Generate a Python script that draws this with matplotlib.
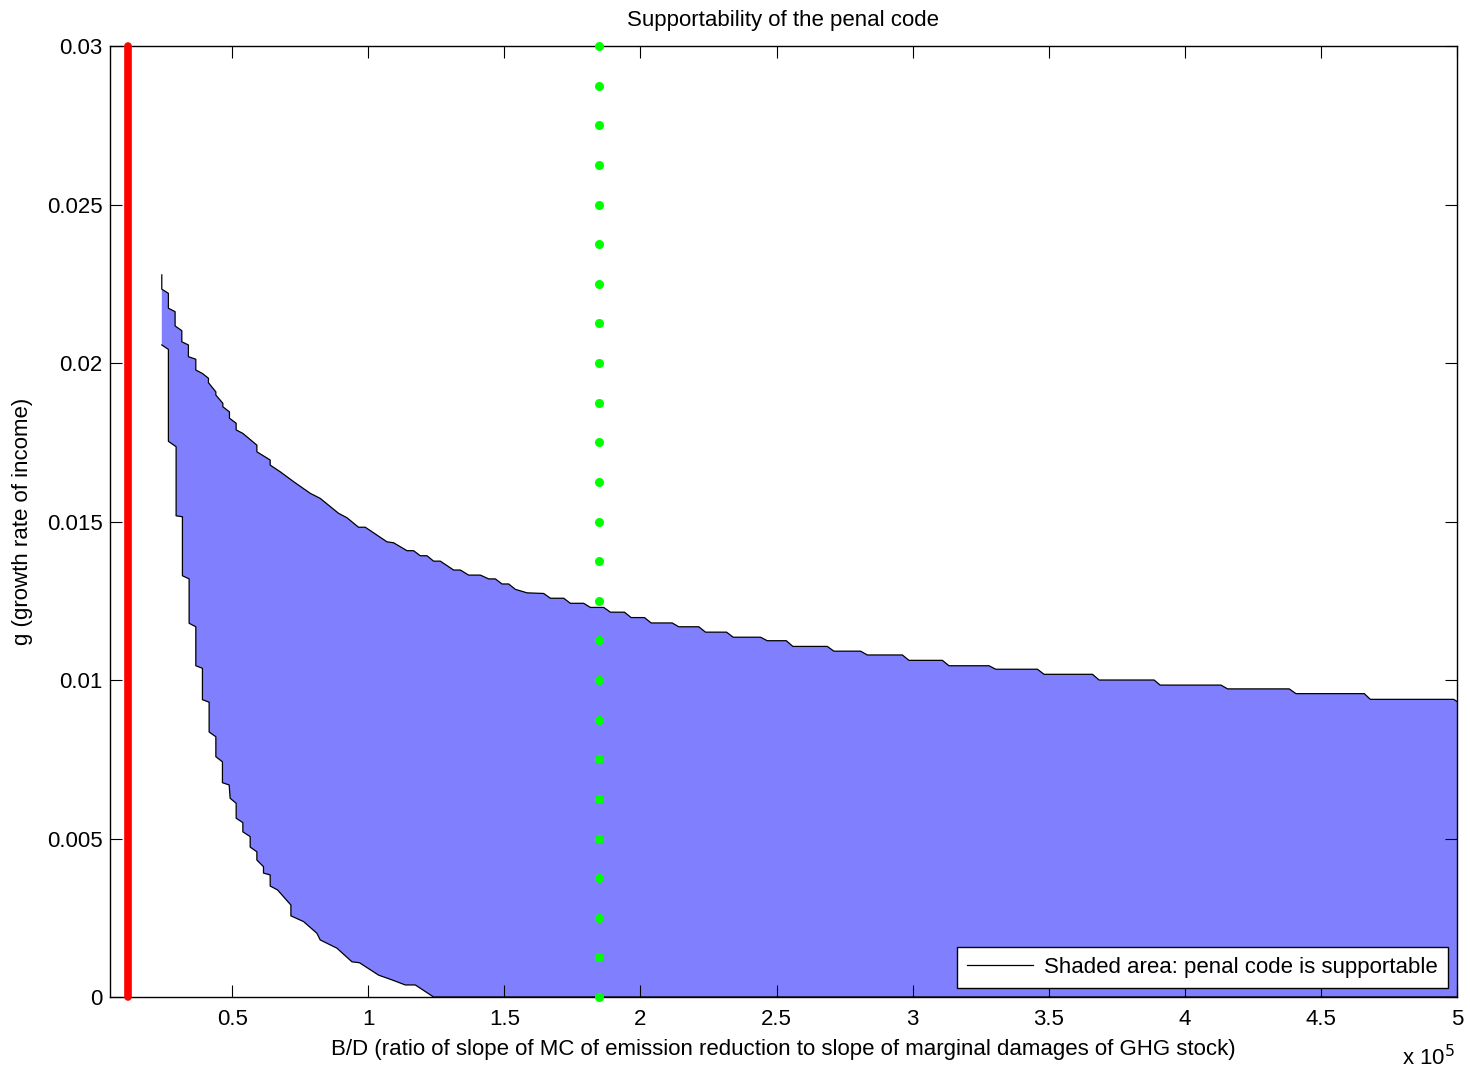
import matplotlib
matplotlib.use("Agg")
import matplotlib.pyplot as plt
import numpy as np

plt.rcParams['font.family'] = ['Liberation Sans', 'DejaVu Sans']

# B/D values in units of 1e5, g values
upper_x = [0.2415, 0.2415, 0.2658, 0.2658, 0.2904, 0.2904, 0.3151, 0.3151, 0.3393, 0.3393,
           0.3665, 0.3665, 0.3908, 0.4129, 0.4129, 0.4401, 0.4401, 0.4658, 0.4658, 0.4901,
           0.4901, 0.5147, 0.5147, 0.5393, 0.5908, 0.5908, 0.6397, 0.6397, 0.6765, 0.7254,
           0.7868, 0.8235, 0.8908, 0.9217, 0.9643, 0.9890, 1.0688, 1.0930, 1.1423, 1.1665,
           1.1912, 1.2158, 1.2401, 1.2647, 1.3136, 1.3382, 1.3688, 1.4118, 1.4423, 1.4669,
           1.4915, 1.5158, 1.5404, 1.5835, 1.6445, 1.6691, 1.7180, 1.7426, 1.7915, 1.8162,
           1.8651, 1.8897, 1.9412, 1.9658, 2.0147, 2.0393, 2.1165, 2.1408, 2.2143, 2.2390,
           2.3162, 2.3408, 2.4412, 2.4658, 2.5357, 2.5599, 2.6864, 2.7107, 2.8088, 2.8335,
           2.9621, 2.9864, 3.1092, 3.1335, 3.2805, 3.3051, 3.4585, 3.4827, 3.6607, 3.6849,
           3.8871, 3.9092, 4.1324, 4.1570, 4.3835, 4.4081, 4.6592, 4.6813, 4.9879, 5.0]
upper_g = [0.02278, 0.02233, 0.02220, 0.02173, 0.02162, 0.02117, 0.02102, 0.02067, 0.02057, 0.02020,
           0.02012, 0.01978, 0.01967, 0.01952, 0.01938, 0.01909, 0.01899, 0.01873, 0.01862, 0.01846,
           0.01826, 0.01810, 0.01789, 0.01778, 0.01741, 0.01720, 0.01694, 0.01678, 0.01657, 0.01626,
           0.01589, 0.01573, 0.01526, 0.01512, 0.01482, 0.01482, 0.01436, 0.01433, 0.01408, 0.01408,
           0.01392, 0.01392, 0.01375, 0.01375, 0.01347, 0.01347, 0.01331, 0.01331, 0.01319, 0.01319,
           0.01303, 0.01303, 0.01286, 0.01275, 0.01273, 0.01258, 0.01258, 0.01242, 0.01242, 0.01229,
           0.01229, 0.01214, 0.01214, 0.01197, 0.01197, 0.01180, 0.01180, 0.01168, 0.01168, 0.01151,
           0.01151, 0.01135, 0.01135, 0.01124, 0.01124, 0.01106, 0.01106, 0.01091, 0.01091, 0.01079,
           0.01079, 0.01062, 0.01062, 0.01045, 0.01045, 0.01034, 0.01034, 0.01018, 0.01018, 0.01000,
           0.01000, 0.00984, 0.00984, 0.00972, 0.00972, 0.00957, 0.00957, 0.00939, 0.00939, 0.00932]

lower_x = [0.2415, 0.2658, 0.2658, 0.2941, 0.2941, 0.3173, 0.3173, 0.3419, 0.3419, 0.3665,
           0.3665, 0.3908, 0.3908, 0.4154, 0.4154, 0.4401, 0.4401, 0.4643, 0.4643, 0.4890,
           0.4926, 0.5147, 0.5147, 0.5393, 0.5393, 0.5662, 0.5662, 0.5908, 0.5908, 0.6151,
           0.6151, 0.6397, 0.6397, 0.6665, 0.7158, 0.7158, 0.7621, 0.8114, 0.8235, 0.8849,
           0.9401, 0.9680, 1.0379, 1.0871, 1.1360, 1.1728, 1.2401, 5.0]
lower_g = [0.02057, 0.02043, 0.01753, 0.01736, 0.01518, 0.01515, 0.01329, 0.01319, 0.01179, 0.01168,
           0.01045, 0.01037, 0.00938, 0.00930, 0.00836, 0.00821, 0.00758, 0.00742, 0.00676, 0.00669,
           0.00627, 0.00611, 0.00564, 0.00550, 0.00521, 0.00506, 0.00473, 0.00458, 0.00432, 0.00411,
           0.00391, 0.00385, 0.00350, 0.00338, 0.00290, 0.00256, 0.00238, 0.00201, 0.00180, 0.00154,
           0.00111, 0.00108, 0.00069, 0.00054, 0.00038, 0.00038, 0.0, 0.0]

red_x = 0.117
green_x = 1.848
green_g = [0.0, 0.00125, 0.0025, 0.00375, 0.005, 0.00625, 0.0075, 0.00875, 0.01, 0.01125,
           0.0125, 0.01375, 0.015, 0.01625, 0.0175, 0.01875, 0.02, 0.02125, 0.0225, 0.02375,
           0.025, 0.02625, 0.0275, 0.02875, 0.03]

x_ticks = [0.5, 1, 1.5, 2, 2.5, 3, 3.5, 4, 4.5, 5]
x_tick_labels = ['0.5', '1', '1.5', '2', '2.5', '3', '3.5', '4', '4.5', '5']
y_ticks = [0, 0.005, 0.01, 0.015, 0.02, 0.025, 0.03]
y_tick_labels = ['0', '0.005', '0.01', '0.015', '0.02', '0.025', '0.03']

FS = 16

fig = plt.figure(figsize=(14.7, 10.71), dpi=100)
ax = fig.add_axes([0.0746, 0.0691, 0.9166, 0.8879])

poly_x = upper_x + lower_x[::-1]
poly_g = upper_g + lower_g[::-1]
ax.fill(poly_x, poly_g, facecolor='#8080ff', edgecolor='none', zorder=1)
ax.plot(upper_x, upper_g, color='black', lw=0.9, zorder=2,
        label='Shaded area: penal code is supportable')
ax.plot(lower_x, lower_g, color='black', lw=0.9, zorder=2)

ax.plot([red_x, red_x], [0, 0.03], color='#ff0000', lw=5.5, solid_capstyle='round',
        zorder=3, clip_on=False)
ax.plot([green_x] * len(green_g), green_g, linestyle='none', marker='o', markersize=5.5,
        markerfacecolor='#00ff00', markeredgecolor='#00ff00', zorder=3, clip_on=False)

ax.set_xlim(0.05, 5)
ax.set_ylim(0, 0.03)
ax.set_xticks(x_ticks)
ax.set_xticklabels(x_tick_labels)
ax.set_yticks(y_ticks)
ax.set_yticklabels(y_tick_labels)
ax.tick_params(direction='in', length=8.5, width=0.8, top=True, right=True,
               labelsize=FS)
ax.tick_params(axis='x', pad=9)
ax.tick_params(axis='y', pad=5)
for s in ax.spines.values():
    s.set_linewidth(1.0)

ax.set_title('Supportability of the penal code', fontsize=FS, pad=14.5)
ax.set_xlabel('B/D (ratio of slope of MC of emission reduction to slope of marginal damages of GHG stock)',
              fontsize=FS, labelpad=6)
ax.set_ylabel('g (growth rate of income)', fontsize=FS, labelpad=10)
ax.text(0.9985, -0.064, r'x 10$^{5}$', transform=ax.transAxes, ha='right', va='center',
        fontsize=FS)

leg = ax.legend(loc='lower right', fontsize=FS, frameon=True, fancybox=False,
                borderaxespad=0.4, handlelength=3.0, handletextpad=0.5, borderpad=0.45)
leg.get_frame().set_edgecolor('black')
leg.get_frame().set_linewidth(1.0)
leg.get_frame().set_alpha(1)

fig.savefig('out.png', dpi=100)
